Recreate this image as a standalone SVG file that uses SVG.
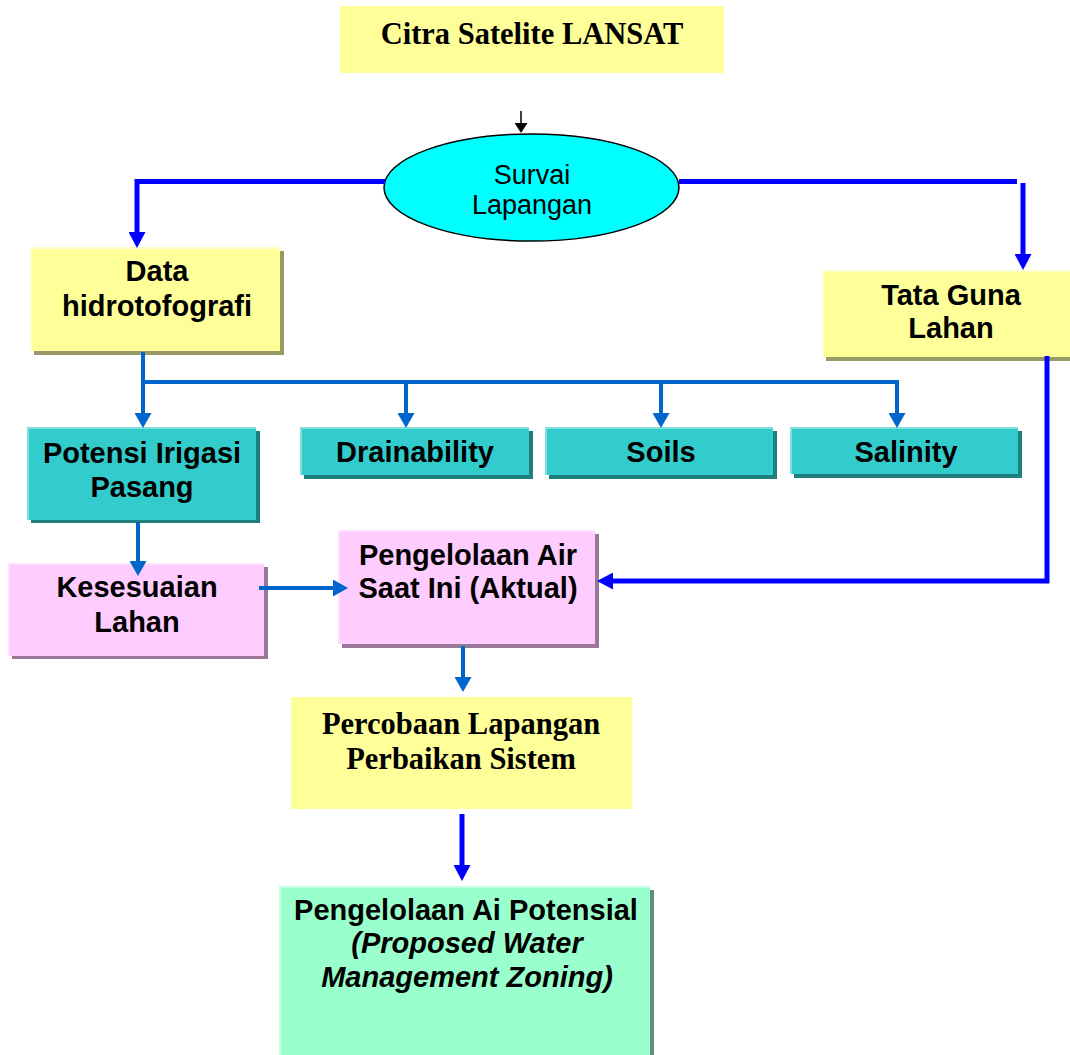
<svg xmlns="http://www.w3.org/2000/svg" width="1070" height="1055" viewBox="0 0 1070 1055">
  <style>
    .sans { font-family: "Liberation Sans", Arial, sans-serif; font-weight: bold; font-size: 29px; fill: #000; text-anchor: middle; }
    .reg { font-family: "Liberation Sans", Arial, sans-serif; font-size: 27px; fill: #000; text-anchor: middle; }
    .serif { font-family: "Liberation Serif", "Times New Roman", serif; font-weight: bold; font-size: 30.5px; fill: #000; text-anchor: middle; }
    .ital { font-style: italic; }
    .yel { fill: #FFFF99; }
    .yel-sh { fill: #999966; }
    .yel-hi { fill: #FFFFCC; }
    .teal { fill: #33CCCC; }
    .teal-sh { fill: #1F7F7F; }
    .teal-hi { fill: #85DEDE; }
    .pink { fill: #FFCCFF; }
    .pink-sh { fill: #997799; }
    .pink-hi { fill: #FFE0FF; }
    .mint { fill: #99FFCC; }
    .mint-sh { fill: #5F8F78; }
    .mint-hi { fill: #C2FFE0; }
    .blue { fill: none; stroke: #0000FF; stroke-width: 5; }
    .mid { fill: none; stroke: #0066CC; stroke-width: 4; }
    .blk { fill: none; stroke: #000; stroke-width: 1.5; }
  </style>
  <defs>
    <marker id="ah-blue" markerUnits="userSpaceOnUse" markerWidth="16" markerHeight="17" refX="0" refY="8.5" orient="auto">
      <path d="M0,0 L16,8.5 L0,17 z" fill="#0000FF"/>
    </marker>
    <marker id="ah-mid" markerUnits="userSpaceOnUse" markerWidth="15" markerHeight="17" refX="0" refY="8.5" orient="auto">
      <path d="M0,0 L15,8.5 L0,17 z" fill="#0066CC"/>
    </marker>
    <marker id="ah-blk" markerUnits="userSpaceOnUse" markerWidth="10" markerHeight="13" refX="0" refY="6.5" orient="auto">
      <path d="M0,0 L10,6.5 L0,13 z" fill="#000"/>
    </marker>
  </defs>

  <rect width="1070" height="1055" fill="#FFFFFF"/>

  <!-- source imagery -->
  <g id="citra">
    <rect class="yel" x="340" y="6" width="384" height="67"/>
    <text class="serif" x="532" y="44">Citra Satelite LANSAT</text>
  </g>

  <!-- field survey -->
  <g id="survai">
    <ellipse cx="531.5" cy="187.5" rx="147.5" ry="53.5" fill="#00FFFF" stroke="#000" stroke-width="1.5"/>
    <text class="reg" x="532" y="184">Survai</text>
    <text class="reg" x="532" y="214">Lapangan</text>
  </g>

  <g id="data-hidro">
    <rect class="yel-sh" x="34" y="251" width="250" height="104"/>
    <rect class="yel-hi" x="30" y="247" width="250" height="104"/>
    <rect class="yel" x="32" y="249" width="248" height="102"/>
    <text class="sans" x="157" y="281">Data</text>
    <text class="sans" x="157" y="316">hidrotofografi</text>
  </g>

  <g id="tata-guna">
    <rect class="yel-sh" x="826" y="274" width="250" height="87"/>
    <rect class="yel-hi" x="822" y="270" width="250" height="87"/>
    <rect class="yel" x="824" y="272" width="248" height="85"/>
    <text class="sans" x="951" y="305">Tata Guna</text>
    <text class="sans" x="951" y="338">Lahan</text>
  </g>

  <g id="potensi">
    <rect class="teal-sh" x="31" y="431" width="229" height="92"/>
    <rect class="teal-hi" x="27" y="427" width="229" height="93"/>
    <rect class="teal" x="29" y="429" width="227" height="91"/>
    <text class="sans" x="142" y="463">Potensi Irigasi</text>
    <text class="sans" x="142" y="497">Pasang</text>
  </g>

  <g id="drainability">
    <rect class="teal-sh" x="304" y="431" width="229" height="48"/>
    <rect class="teal-hi" x="300" y="427" width="229" height="48"/>
    <rect class="teal" x="302" y="429" width="227" height="46"/>
    <text class="sans" x="415" y="462">Drainability</text>
  </g>

  <g id="soils">
    <rect class="teal-sh" x="549" y="431" width="228" height="48"/>
    <rect class="teal-hi" x="545" y="427" width="228" height="48"/>
    <rect class="teal" x="547" y="429" width="226" height="46"/>
    <text class="sans" x="661" y="462">Soils</text>
  </g>

  <g id="salinity">
    <rect class="teal-sh" x="794" y="431" width="228" height="47"/>
    <rect class="teal-hi" x="790" y="427" width="228" height="47"/>
    <rect class="teal" x="792" y="429" width="226" height="45"/>
    <text class="sans" x="906" y="462">Salinity</text>
  </g>

  <g id="kesesuaian">
    <rect class="pink-sh" x="12" y="567" width="256" height="92"/>
    <rect class="pink-hi" x="8" y="563" width="256" height="93"/>
    <rect class="pink" x="10" y="565" width="254" height="91"/>
    <text class="sans" x="137" y="597">Kesesuaian</text>
    <text class="sans" x="137" y="632">Lahan</text>
  </g>

  <g id="pengelolaan-aktual">
    <rect class="pink-sh" x="342" y="534" width="257" height="114"/>
    <rect class="pink-hi" x="338" y="530" width="257" height="114"/>
    <rect class="pink" x="340" y="532" width="255" height="112"/>
    <text class="sans" x="468" y="565">Pengelolaan Air</text>
    <text class="sans" x="468" y="598">Saat Ini (Aktual)</text>
  </g>

  <g id="percobaan">
    <rect class="yel" x="291" y="697" width="341" height="112"/>
    <text class="serif" x="461" y="734">Percobaan Lapangan</text>
    <text class="serif" x="461" y="769">Perbaikan Sistem</text>
  </g>

  <g id="pengelolaan-potensial">
    <rect class="mint-sh" x="283" y="890" width="371" height="170"/>
    <rect class="mint-hi" x="279" y="886" width="371" height="170"/>
    <rect class="mint" x="281" y="888" width="369" height="170"/>
    <text class="sans" x="466" y="920">Pengelolaan Ai Potensial</text>
    <text class="sans ital" x="467" y="953">(Proposed Water</text>
    <text class="sans ital" x="467" y="987">Management Zoning)</text>
  </g>

  <!-- connectors, drawn over the boxes so arrow tips overlap their edges -->
  <g id="connectors">
    <path class="blk" d="M521,111 V123" marker-end="url(#ah-blk)"/>
    <path class="blue" d="M385,181.5 H137 V232" marker-end="url(#ah-blue)"/>
    <path class="blue" d="M679,181.5 H1017"/>
    <path class="blue" d="M1023,183 V254" marker-end="url(#ah-blue)"/>
    <path class="blue" d="M1047,356 V581 H613" stroke-width="4.5" marker-end="url(#ah-blue)"/>
    <path class="blue" d="M462,814 V865" stroke-width="6" marker-end="url(#ah-blue)"/>
    <path class="mid" d="M143,352 V413" marker-end="url(#ah-mid)"/>
    <path class="mid" d="M143,382 H897 V413" marker-end="url(#ah-mid)"/>
    <path class="mid" d="M406,382 V413" marker-end="url(#ah-mid)"/>
    <path class="mid" d="M661,382 V413" marker-end="url(#ah-mid)"/>
    <path class="mid" d="M138,522 V561" marker-end="url(#ah-mid)"/>
    <path class="mid" d="M259,588 H333" marker-end="url(#ah-mid)"/>
    <path class="mid" d="M463,646 V677" marker-end="url(#ah-mid)"/>
  </g>
</svg>
